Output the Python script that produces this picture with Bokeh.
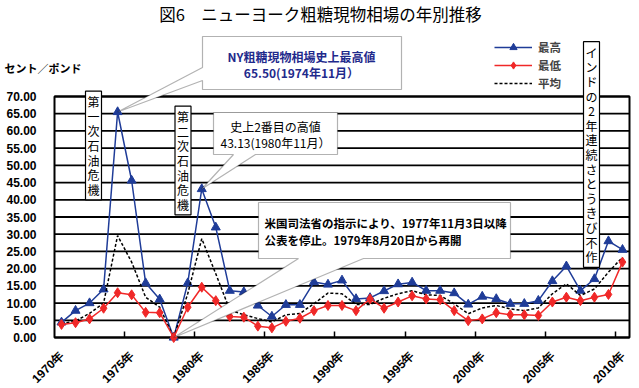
import math
from bokeh.plotting import figure
from bokeh.models import (FixedTicker, PrintfTickFormatter, Legend, LegendItem,
                          Label, PolyAnnotation)
from bokeh.embed import file_html
from bokeh.resources import INLINE

# ---------------- data ----------------
years = list(range(1970, 2011))
high = [4.4, 7.8, 10.0, 14.0, 65.5, 45.6, 15.8, 11.1, 0.0, 15.8,
        43.13, 32.0, 13.6, 13.2, 9.3, 6.1, 9.5, 9.5, 16.1, 15.4,
        16.6, 11.2, 11.5, 13.5, 15.5, 16.0, 13.6, 13.6, 12.9, 9.6,
        11.9, 11.2, 9.8, 9.8, 10.7, 16.4, 20.7, 13.6, 17.0, 28.0, 25.5]
low = [3.8, 4.3, 5.4, 8.5, 13.0, 12.4, 7.3, 7.2, 0.0, 8.8,
       14.6, 10.7, 6.1, 5.9, 3.3, 2.8, 4.7, 5.6, 7.8, 9.3,
       9.3, 7.8, 11.2, 8.5, 10.3, 12.1, 11.2, 11.0, 7.8, 4.9,
       5.4, 7.2, 6.6, 6.6, 6.4, 10.3, 11.7, 10.7, 11.7, 12.5, 21.9]
avg = [4.0, 4.8, 7.0, 10.0, 29.6, 21.9, 11.7, 8.8, 0.0, 12.7,
       28.7, 18.5, 8.0, 6.6, 5.5, 4.5, 6.6, 7.0, 9.8, 12.9,
       12.7, 9.6, 9.6, 11.4, 12.7, 13.6, 12.4, 12.2, 9.8, 6.9,
       8.6, 9.3, 8.3, 7.8, 8.6, 12.7, 15.6, 12.2, 14.1, 19.0, 23.3]
year_labels = [f"{y}年" for y in years]
series_names = ["最高", "最低", "平均"]
y_ticks = list(range(0, 75, 5))

title_text = "図6　ニューヨーク粗糖現物相場の年別推移"
unit_text = "セント／ポンド"
note_ny = "NY粗糖現物相場史上最高値\n65.50(1974年11月）"
note_2nd = "史上2番目の高値\n43.13(1980年11月）"
note_doj = "米国司法省の指示により、1977年11月3日以降\n公表を停止。1979年8月20日から再開"
note_oil1 = "第一次石油危機"
note_oil2 = "第二次石油危機"
note_india = "インドの2年連続さとうきび不作"

xs = list(range(len(years)))
N = len(years)
YMAX = 70

# ---------------- layout (page px -> data) ----------------
W, H = 639, 388          # canvas == page (template has no body margin)
FL, FT, FW, FH = 54, 96, 575, 241   # plot area in page px


def X(px):
    return -0.5 + (px - FL) * N / FW


def Y(py):
    return (FT + FH - py) * YMAX / FH


BLUE = "#1F3C98"
RED = "#F02828"
CJK = "Noto Sans CJK JP"

p = figure(width=W, height=H, output_backend="svg", toolbar_location=None,
           x_range=(X(0), X(W)), y_range=(Y(H), Y(0)),
           min_border=0, min_border_left=0, min_border_right=0,
           min_border_top=0, min_border_bottom=0,
           background_fill_color="white", border_fill_color="white")
p.outline_line_color = None
p.xgrid.visible = False
p.ygrid.visible = False

# grid lines + plot-area border, in data space
p.segment(x0=[-0.5] * len(y_ticks), x1=[N - 0.5] * len(y_ticks), y0=y_ticks, y1=y_ticks,
          line_color="black", line_width=1.8)
p.quad(left=[-0.5], right=[N - 0.5], bottom=[0], top=[YMAX], fill_color=None,
       line_color="black", line_width=2)

# y axis
ya = p.yaxis[0]
ya.fixed_location = -0.5
ya.bounds = (0, YMAX)
ya.ticker = FixedTicker(ticks=y_ticks)
ya.formatter = PrintfTickFormatter(format="%.2f")
ya.major_tick_line_color = None
ya.minor_tick_line_color = None
ya.axis_line_color = None
ya.major_label_text_font = "Liberation Sans"
ya.major_label_text_font_style = "bold"
ya.major_label_text_font_size = "12px"
ya.major_label_text_color = "black"
ya.major_label_standoff = 12

# x axis
label_idx = [i for i in xs if i % 5 == 0]
xa = p.xaxis[0]
xa.fixed_location = 0
xa.bounds = (-0.5, N - 0.5)
xa.ticker = FixedTicker(ticks=label_idx,
                        minor_ticks=[i + 4.5 for i in range(0, N - 5, 5)])
xa.major_label_overrides = {i: year_labels[i] for i in label_idx}
xa.major_label_orientation = math.pi / 4
xa.major_tick_line_color = None
xa.minor_tick_line_color = "black"
xa.minor_tick_line_width = 1.5
xa.minor_tick_in = 6
xa.minor_tick_out = 0
xa.axis_line_color = None
xa.major_label_text_font = "Liberation Sans"
xa.major_label_text_font_style = "bold"
xa.major_label_text_font_size = "12px"
xa.major_label_text_color = "black"
xa.major_label_standoff = 10

# series
hl = p.line(xs, high, line_color=BLUE, line_width=1.5)
hs = p.scatter(xs, high, marker="triangle", size=9, fill_color=BLUE, line_color=BLUE)
al = p.line(xs, avg, line_color="black", line_width=1.5, line_dash="3 2")
ll = p.line(xs, low, line_color=RED, line_width=1.5)
ls = p.scatter(xs, low, marker="diamond", size=10, fill_color=RED, line_color=RED)

legend = Legend(items=[LegendItem(label=series_names[0], renderers=[hl, hs]),
                       LegendItem(label=series_names[1], renderers=[ll, ls]),
                       LegendItem(label=series_names[2], renderers=[al])],
                location=(494, H - 92), orientation="vertical",
                glyph_width=38, glyph_height=18, label_height=18,
                label_standoff=6, spacing=0, padding=0, margin=0,
                border_line_color=None, background_fill_alpha=0,
                label_text_font=CJK, label_text_font_size="11.5px",
                label_text_font_style="bold")
p.add_layout(legend)

# ---------------- callout boxes ----------------

def callout(px_pts, lw=1.2):
    p.add_layout(PolyAnnotation(xs=[X(a) for a, b in px_pts], ys=[Y(b) for a, b in px_pts],
                                fill_color="white", fill_alpha=1.0,
                                line_color="black", line_width=lw))


def data_px(i, v):
    return FL + (i + 0.5) * FW / N, FT + FH - v * FH / YMAX


# NY record box with tail to 1974 peak
ax1, ay1 = data_px(4, high[4])
callout([(202, 36), (401, 36), (401, 89), (202, 89), (202, 80), (ax1, ay1), (202, 67)])
# 2nd highest box with tail to 1980
ax2, ay2 = data_px(10, high[10])
callout([(213, 112), (337, 112), (337, 154), (255, 154), (ax2, ay2), (233, 154), (213, 154)])
# DOJ note box with tail to 1978 zero
ax3, ay3 = data_px(8, 0)
callout([(258, 202), (510, 202), (510, 258), (363, 258), (ax3, ay3), (298, 258), (258, 258)])


def label(px, py, text, size="12px", color="black", style="normal", align="center",
          border=False, font=CJK, lh=1.0):
    kw = {}
    if border:
        kw = dict(border_line_color="black", border_line_width=1.2,
                  background_fill_color="white", padding=2)
    p.add_layout(Label(x=X(px), y=Y(py), text=text, text_font=font,
                       text_font_size=size, text_color=color, text_font_style=style,
                       text_align=align, text_baseline="middle", text_line_height=lh, **kw))


label(320, 13, title_text, size="16.5px")
label(4, 67, unit_text, size="11px", style="bold", align="left")
label(301, 64, note_ny, size="12px", color="#1F2A8C", style="bold", lh=0.95)
label(275, 134, note_2nd, size="12px", lh=0.95)
label(264, 231, note_doj, size="11.5px", style="bold", align="left", lh=1.1)
label(93, 145, "\n".join(note_oil1), size="12px", border=True, lh=0.86)
label(182.5, 160, "\n".join(note_oil2), size="12px", border=True, lh=0.86)
label(591, 154, "\n".join(note_india), size="12px", border=True, lh=0.86)

open("out.html", "w").write(file_html(p, INLINE))
